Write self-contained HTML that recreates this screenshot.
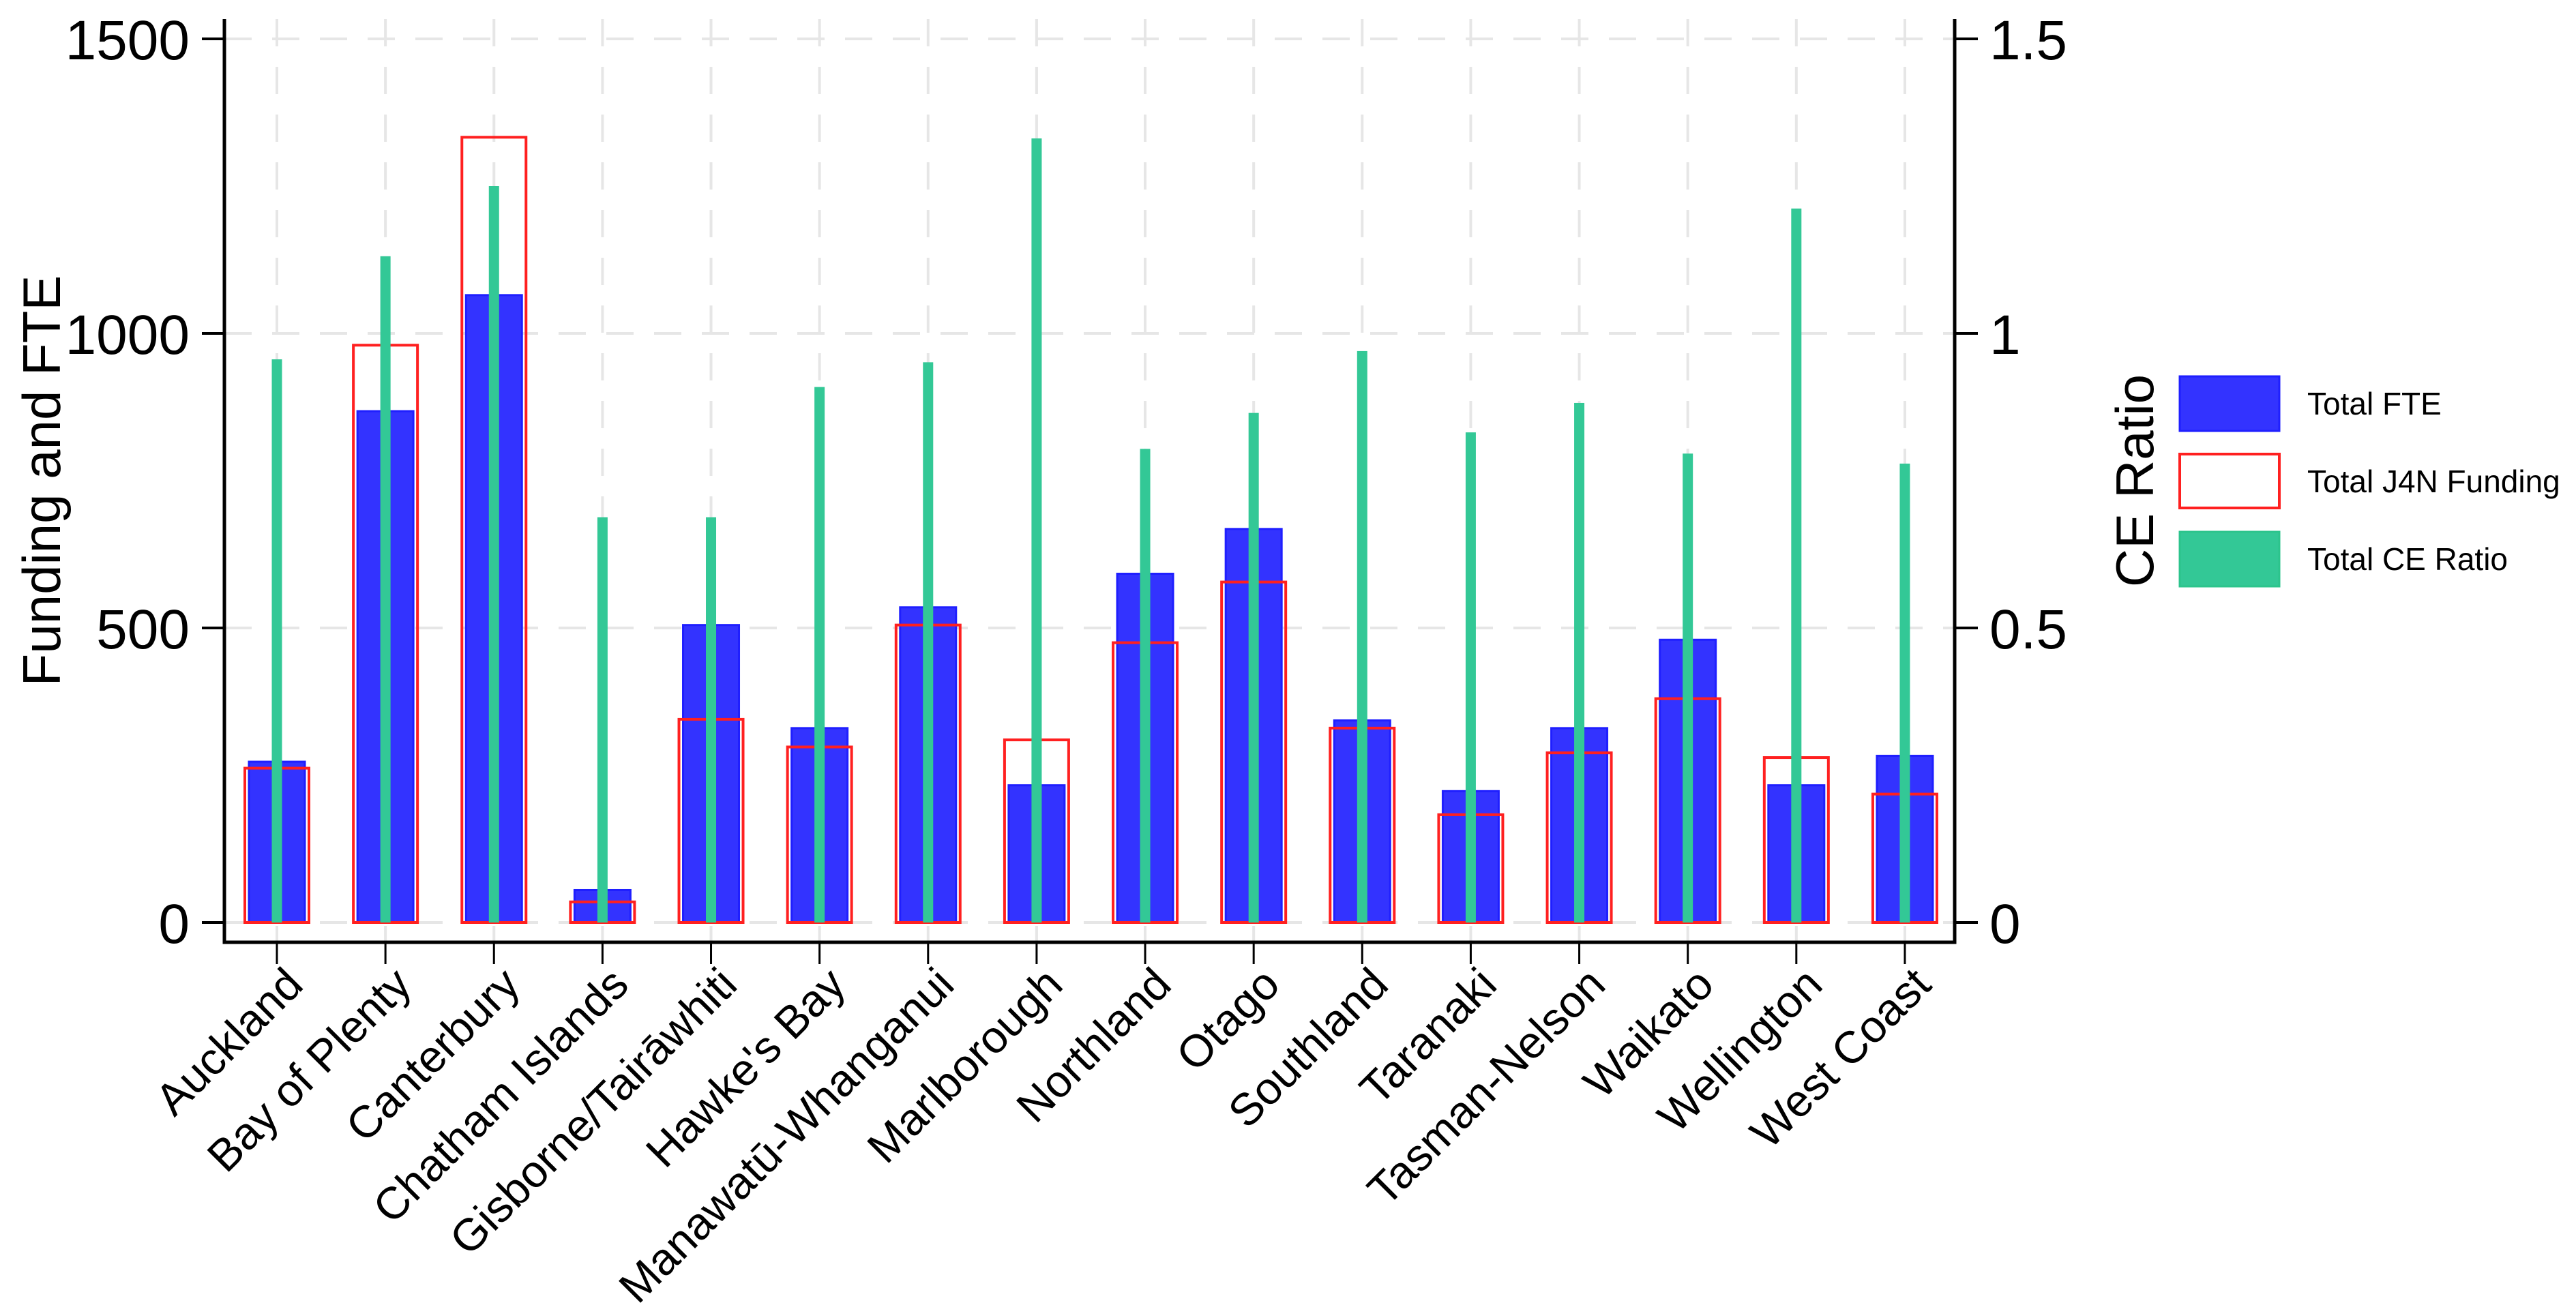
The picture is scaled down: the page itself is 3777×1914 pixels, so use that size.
<!DOCTYPE html>
<html><head><meta charset="utf-8"><style>
html,body{margin:0;padding:0;background:#fff;}
svg{display:block;font-family:"Liberation Sans",Arial,sans-serif;}
</style></head><body>
<svg id="chart" width="3777" height="1914" viewBox="0 0 3777 1914" xmlns="http://www.w3.org/2000/svg">
<rect width="3777" height="1914" fill="#fff"/>
<g id="grid"></g><g id="bars"></g><g id="axes"></g>
<text transform="translate(88,705) rotate(-90)" text-anchor="middle" font-size="78" fill="#000">Funding and FTE</text>
<text transform="translate(3157,705) rotate(-90)" text-anchor="middle" font-size="78" fill="#000">CE Ratio</text>
<g>
<g><rect x="3196" y="552" width="146" height="80" fill="#3333ff" stroke="#1f1fff" stroke-width="3"/><text x="3383" y="608" font-size="46">Total FTE</text></g>
<g><rect x="3196" y="666" width="146" height="79" fill="none" stroke="#ff2020" stroke-width="4"/><text x="3383" y="722" font-size="46">Total J4N Funding</text></g>
<g><rect x="3196" y="780" width="146" height="80" fill="#33c896" stroke="#2cc48c" stroke-width="3"/><text x="3383" y="836" font-size="46">Total CE Ratio</text></g>
</g>
</svg>
<script>
const categories=["Auckland","Bay of Plenty","Canterbury","Chatham Islands","Gisborne/Tairāwhiti","Hawke's Bay","Manawatū-Whanganui","Marlborough","Northland","Otago","Southland","Taranaki","Tasman-Nelson","Waikato","Wellington","West Coast"];
const fteValues=[273,868,1065,55,505,330,535,233,592,668,343,223,330,480,233,283];
const fundingValues=[262,980,1333,35,345,298,505,310,475,578,330,183,288,380,280,218];
const ceValues=[0.956,1.131,1.25,0.688,0.688,0.909,0.951,1.331,0.804,0.865,0.97,0.832,0.882,0.796,1.212,0.779];
const leftTicks=[0,500,1000,1500];
const rightTicks=["0","0.5","1","1.5"];
const rightTickValues=[0,0.5,1,1.5];

const NS="http://www.w3.org/2000/svg";
const y0=1353, pxPerUnit=(1353-57)/1500;
const yL=v=>y0-v*pxPerUnit;
const yR=v=>y0-v/1.5*1500*pxPerUnit;
const xC=i=>406+i*159.13;
function mk(tag,attrs,parent){const e=document.createElementNS(NS,tag);for(const k in attrs)e.setAttribute(k,attrs[k]);parent.appendChild(e);return e;}
const grid=document.getElementById('grid'),bars=document.getElementById('bars'),axes=document.getElementById('axes');
leftTicks.forEach(t=>{const l=mk('line',{x1:329,x2:2866,y1:yL(t),y2:yL(t),stroke:'#e6e6e6','stroke-width':4,'stroke-dasharray':'40 30'},grid);

});
categories.forEach((c,i)=>{const l=mk('line',{x1:xC(i),x2:xC(i),y1:28,y2:1382,stroke:'#e6e6e6','stroke-width':4,'stroke-dasharray':'40 30'},grid);

});
categories.forEach((c,i)=>{
const cx=xC(i);
const b=mk('rect',{x:cx-41,y:yL(fteValues[i]),width:82,height:y0-yL(fteValues[i]),fill:'#3333ff',stroke:'#1f1fff','stroke-width':3},bars);


const r=mk('rect',{x:cx-47,y:yL(fundingValues[i]),width:94,height:y0-yL(fundingValues[i]),fill:'none',stroke:'#ff2020','stroke-width':4},bars);


const g=mk('rect',{x:cx-7.5,y:yR(ceValues[i]),width:15,height:y0-yR(ceValues[i]),fill:'#33c896'},bars);


const tk=mk('line',{x1:cx,x2:cx,y1:1382,y2:1414,stroke:'#000','stroke-width':3},axes);


const t=mk('text',{transform:`translate(${cx+8},1414) rotate(-45)`,'text-anchor':'end',dy:'0.72em','font-size':66,fill:'#000'},axes);
t.textContent=c;


});
const ax=mk('path',{d:'M329,28 V1382 H2866 V28',fill:'none',stroke:'#000','stroke-width':5},axes);


leftTicks.forEach(t=>{const l=mk('line',{x1:296,x2:329,y1:yL(t),y2:yL(t),stroke:'#000','stroke-width':4},axes);


const tx=mk('text',{x:278,y:yL(t)+30,'text-anchor':'end','font-size':82,fill:'#000'},axes);tx.textContent=t;

});
rightTickValues.forEach((t,i)=>{const l=mk('line',{x1:2866,x2:2900,y1:yR(t),y2:yR(t),stroke:'#000','stroke-width':4},axes);


const tx=mk('text',{x:2917,y:yR(t)+30,'font-size':82,fill:'#000'},axes);tx.textContent=rightTicks[i];

});
</script>
</body></html>
